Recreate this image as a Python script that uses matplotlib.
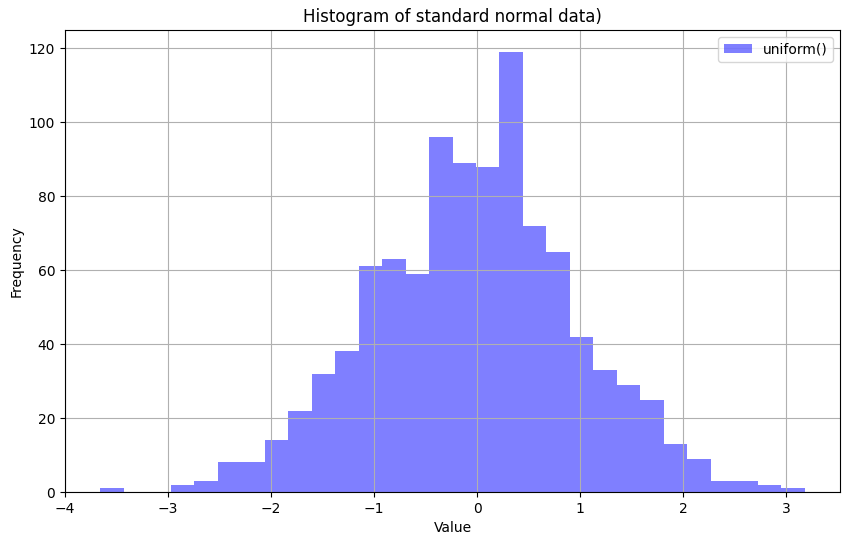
import numpy as np
import matplotlib
matplotlib.use("Agg")
import matplotlib.pyplot as plt

# histogram: 30 bins
bin_lo, bin_hi = -3.66, 3.18
counts = [1, 0, 0, 2, 3, 8, 8, 14, 22, 32, 38, 61, 63, 59, 96,
          89, 88, 119, 72, 65, 42, 33, 29, 25, 13, 9, 3, 3, 2, 1]

edges = np.linspace(bin_lo, bin_hi, len(counts) + 1)
centers = (edges[:-1] + edges[1:]) / 2

fig = plt.figure(figsize=(8.5, 5.45), dpi=100)
ax = fig.add_axes([65 / 850, 53 / 545, 775 / 850, 462 / 545])
ax.hist(centers, bins=edges, weights=counts, color="blue", alpha=0.5, label="uniform()")
ax.set_title("Histogram of standard normal data)")
ax.set_xlabel("Value")
ax.set_ylabel("Frequency")
ax.grid(True)
ax.legend(loc="upper right")
fig.savefig("out.png", dpi=100)
